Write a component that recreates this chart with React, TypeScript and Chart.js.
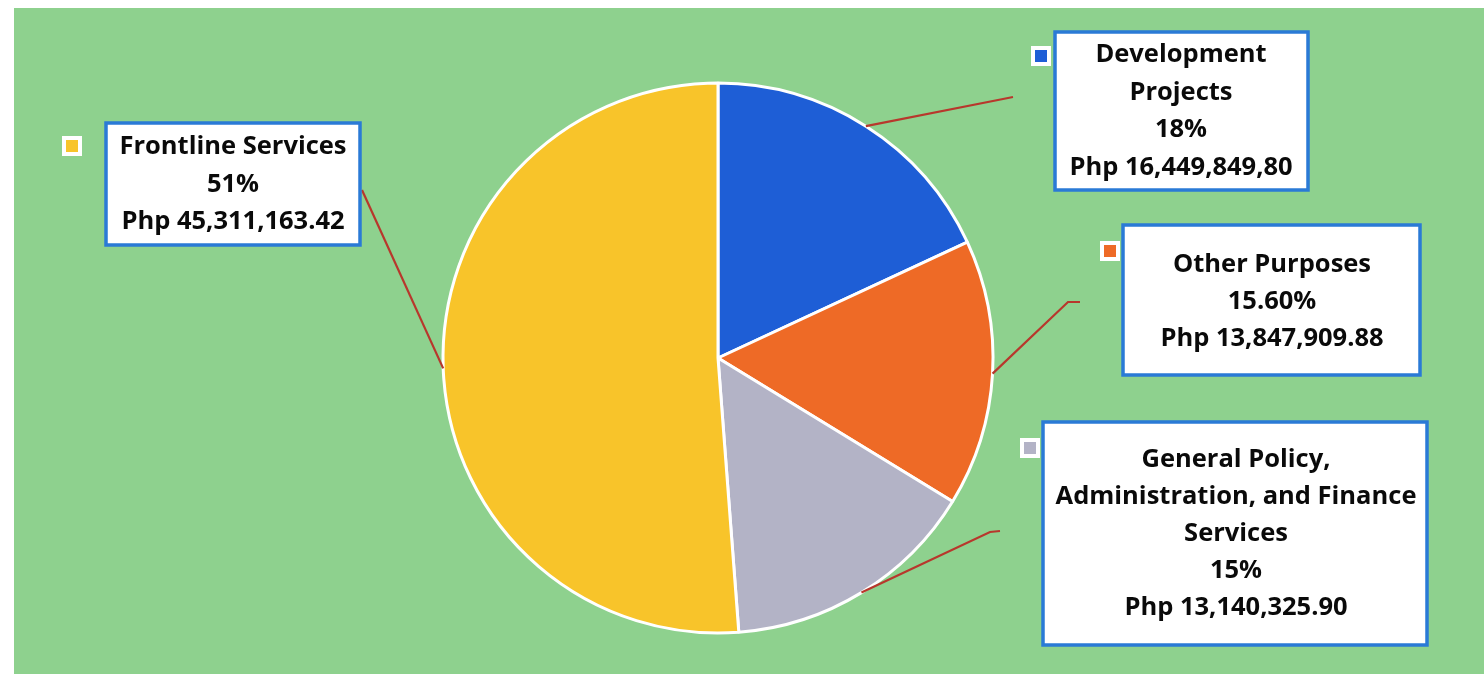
import React, { useEffect, useRef } from "react";
import { Chart, registerables } from "chart.js";

Chart.register(...registerables);

// ---- data ----
const categories = [
  ["Development", "Projects"],
  ["Other Purposes"],
  ["General Policy,", "Administration, and Finance", "Services"],
  ["Frontline Services"],
];
const percentValues = [18, 15.6, 15, 51];
const percentLabels = ["18%", "15.60%", "15%", "51%"];
const amountLabels = ["Php 16,449,849,80", "Php 13,847,909.88", "Php 13,140,325.90", "Php 45,311,163.42"];
const colors = ["#1e5ed6", "#ee6a26", "#b3b3c6", "#f8c42a"];

// ---- layout (page px) ----
const BG = "#8ed18e";
const boxes = [
  { x: 1055, y: 32, w: 253, h: 158, cx: 1181, ty: 55, lh: 37.5, mx: 1041, my: 56, lead: [[1003, 99], [1013, 97]] },
  { x: 1123, y: 225, w: 297, h: 150, cx: 1272, ty: 265, lh: 37, mx: 1110, my: 251, lead: [[1068, 302], [1080, 302]] },
  { x: 1043, y: 422, w: 384, h: 223, cx: 1236, ty: 460, lh: 37, mx: 1030, my: 448, lead: [[990, 532], [1000, 531]] },
  { x: 106, y: 123, w: 254, h: 122, cx: 233, ty: 147, lh: 37.5, mx: 72, my: 146, lead: [[362, 190]] },
];

const labelPlugin = {
  id: "boxLabels",
  beforeDraw(chart: any) {
    const ctx = chart.ctx;
    ctx.save();
    ctx.fillStyle = "#ffffff";
    ctx.fillRect(0, 0, chart.width, chart.height);
    ctx.fillStyle = BG;
    ctx.fillRect(14, 8, chart.width - 14, chart.height - 8);
    ctx.restore();
  },
  afterDraw(chart: any) {
    const ctx = chart.ctx;
    const meta = chart.getDatasetMeta(0);
    ctx.save();
    meta.data.forEach((arc: any, i: number) => {
      const b = boxes[i];
      const mid = (arc.startAngle + arc.endAngle) / 2;
      const sx = arc.x + Math.cos(mid) * arc.outerRadius;
      const sy = arc.y + Math.sin(mid) * arc.outerRadius;
      // leader line
      ctx.strokeStyle = "#b8372c";
      ctx.lineWidth = 2.2;
      ctx.beginPath();
      ctx.moveTo(sx, sy);
      b.lead.forEach((p: number[]) => ctx.lineTo(p[0], p[1]));
      ctx.stroke();
      // box
      ctx.fillStyle = "#ffffff";
      ctx.fillRect(b.x, b.y, b.w, b.h);
      ctx.strokeStyle = "#2a7ad6";
      ctx.lineWidth = 3.5;
      ctx.strokeRect(b.x, b.y, b.w, b.h);
      // text
      const lines = [...categories[i], percentLabels[i], amountLabels[i]];
      ctx.fillStyle = "#0a0a0a";
      ctx.font = "bold 25.5px 'Open Sans', sans-serif";
      ctx.textAlign = "center";
      ctx.textBaseline = "middle";
      lines.forEach((t, k) => {
        ctx.fillText(t, b.cx, b.ty + k * b.lh);
      });
      // legend marker
      ctx.fillStyle = "#ffffff";
      ctx.fillRect(b.mx - 10, b.my - 10, 20, 20);
      ctx.fillStyle = colors[i];
      ctx.fillRect(b.mx - 6, b.my - 6, 12, 12);
    });
    ctx.restore();
  },
};

export default function App() {
  const ref = useRef<HTMLCanvasElement | null>(null);
  useEffect(() => {
    if (!ref.current) return;
    const chart = new Chart(ref.current, {
      type: "pie",
      data: {
        labels: categories.map((c) => c.join(" ")),
        datasets: [
          {
            data: percentValues,
            backgroundColor: colors,
            borderColor: "#ffffff",
            borderWidth: 3,
          },
        ],
      },
      options: {
        animation: false,
        responsive: false,
        radius: 275,
        layout: { padding: { left: 443, right: 491, top: 83, bottom: 41 } },
        plugins: { legend: { display: false }, tooltip: { enabled: false } },
      } as any,
      plugins: [labelPlugin],
    });
    return () => chart.destroy();
  }, []);
  return (
    <div style={{ position: "absolute", left: 0, top: 0, width: 1484, height: 674 }}>
      <canvas ref={ref} width={1484} height={674} style={{ display: "block" }} />
    </div>
  );
}
